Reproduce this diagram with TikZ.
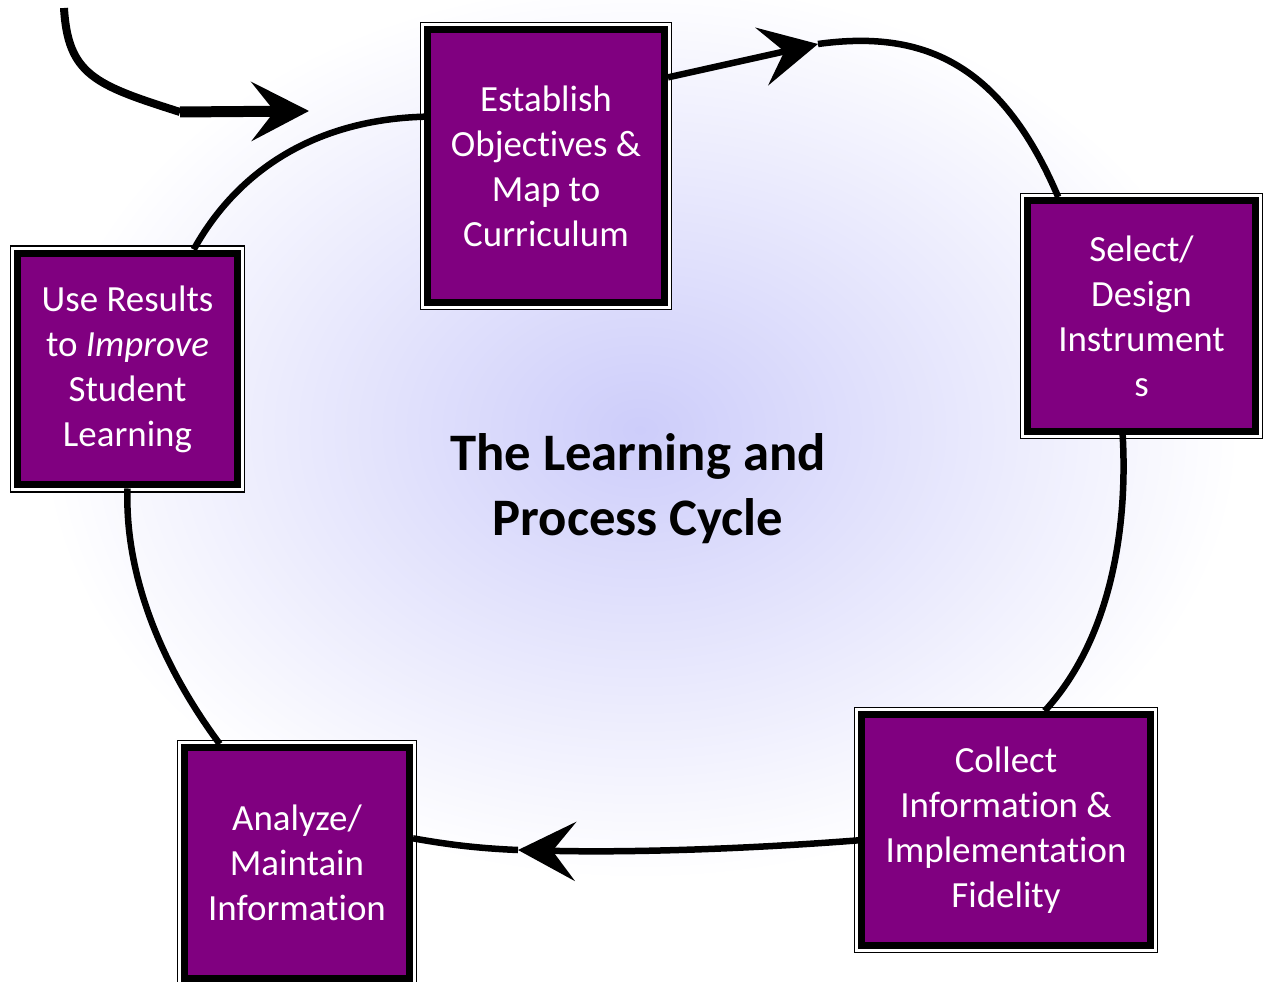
\documentclass[tikz,border=0pt]{standalone}
\usepackage{fontspec}
\setmainfont{Carlito}[Ligatures=NoCommon]
\usetikzlibrary{arrows.meta}
\definecolor{boxpurple}{RGB}{128,0,128}
\definecolor{lavender}{RGB}{205,205,250}

\begin{document}
\begin{tikzpicture}[x=0.02cm,y=-0.02cm,
  stage/.style={draw=black, line width=0.14cm, fill=boxpurple, text=white, align=center, inner sep=0pt,
    font=\fontsize{21}{25.6}\selectfont,
    preaction={draw=black, line width=0.31cm},
    preaction={draw=white, line width=0.26cm}},
  cycleline/.style={line width=0.13cm},
  >={Stealth[length=1.15cm,width=1.18cm,inset=0.46cm]}]
\begin{scope}
\clip (0,0) rectangle (1263,982);
\shade[inner color=lavender, outer color=white] (640,430) ellipse (600 and 450);
\end{scope}
\useasboundingbox (0,0) rectangle (1263,982);
\node[stage, minimum width=4.74cm, minimum height=5.46cm] (est) at (546,166) {Establish\\Objectives \&\\Map to\\Curriculum};
\node[stage, minimum width=4.56cm, minimum height=4.62cm] (sel) at (1141.5,316) {Select/\\Design\\Instrument\\s};
\node[stage, minimum width=5.78cm, minimum height=4.62cm] (col) at (1006,830) {Collect\\Information \&\\Implementation\\Fidelity};
\node[stage, minimum width=4.50cm, minimum height=4.62cm] (ana) at (297,863) {Analyze/\\Maintain\\Information};
\node[stage, minimum width=4.40cm, minimum height=4.64cm] (use) at (127.5,369) {Use Results\\to \textit{Improve}\\Student\\Learning};
\node[font=\fontsize{30}{37}\selectfont\bfseries, align=center] (title) at (638,489) {The Learning and\\Process Cycle};
\coordinate (in0) at (64,8);
\coordinate (in1) at (180,112);
\coordinate (in2) at (309,111);
\coordinate (t1) at (818,44);
\coordinate (t2) at (518,850);
\draw[line width=0.16cm] (in0) .. controls (68,75) and (95,85) .. (in1);
\draw[line width=0.22cm, ->] (in1) -- (in2);
\draw[cycleline] (use.61) .. controls (235,175) and (310,120) .. (est.158);
\draw[cycleline, ->] (est.36) -- (t1);
\draw[cycleline] (t1) .. controls (920,30) and (1000,60) .. (sel.125);
\draw[cycleline] (sel.261) .. controls (1128,530) and (1110,640) .. (col.72);
\draw[cycleline, ->] (col.184) .. controls (760,848) and (640,853) .. (t2);
\draw[cycleline] (t2) .. controls (470,848) and (440,843) .. (ana.12);
\draw[cycleline] (ana.123) .. controls (150,650) and (125,560) .. (use.south);
\end{tikzpicture}
\end{document}
